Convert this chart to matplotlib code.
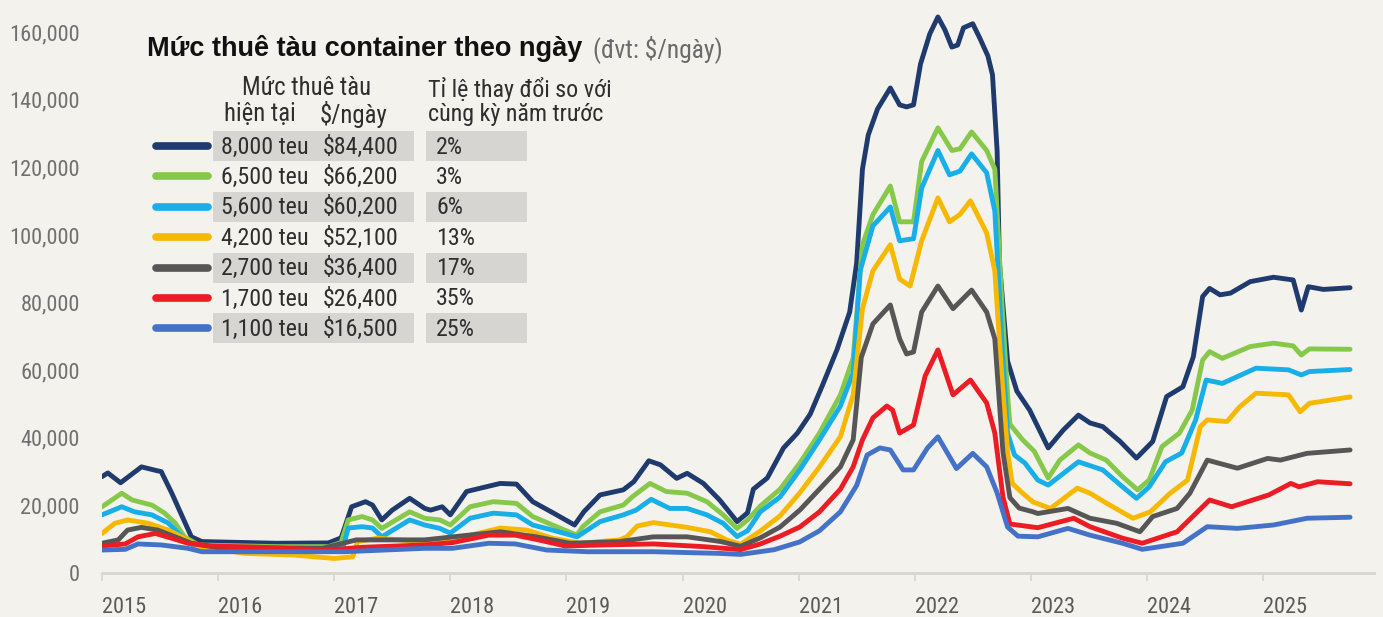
import matplotlib
matplotlib.use('Agg')
import matplotlib.pyplot as plt
import matplotlib.font_manager as fm
from matplotlib.lines import Line2D
from matplotlib.patches import Rectangle
from matplotlib.ticker import FuncFormatter

W, H = 1383, 617
BG = '#f4f2ed'

# ---------------- data ----------------
years = [2015, 2016, 2017, 2018, 2019, 2020, 2021, 2022, 2023, 2024, 2025]
y_ticks = [0, 20000, 40000, 60000, 80000, 100000, 120000, 140000, 160000]

navy_t = [2015.00, 2015.05, 2015.16, 2015.34, 2015.47, 2015.51, 2015.60, 2015.77, 2015.86, 2016.50, 2016.95,
          2017.06, 2017.15, 2017.27, 2017.33, 2017.41, 2017.50, 2017.65, 2017.78, 2017.83, 2017.93, 2018.00,
          2018.14, 2018.26, 2018.43, 2018.57, 2018.71, 2018.89, 2019.07, 2019.15, 2019.29, 2019.49, 2019.58,
          2019.71, 2019.81, 2019.95, 2020.04, 2020.18, 2020.32, 2020.47, 2020.56, 2020.61, 2020.73, 2020.87,
          2020.99, 2021.10, 2021.21, 2021.33, 2021.44, 2021.50, 2021.55, 2021.60, 2021.68, 2021.79, 2021.87,
          2021.93, 2021.99, 2022.05, 2022.13, 2022.20, 2022.26, 2022.32, 2022.37, 2022.42, 2022.50, 2022.56,
          2022.63, 2022.67, 2022.71, 2022.73, 2022.80, 2022.88, 2022.99, 2023.15, 2023.28, 2023.41, 2023.51,
          2023.62, 2023.77, 2023.91, 2024.05, 2024.17, 2024.31, 2024.40, 2024.48, 2024.54, 2024.63, 2024.72,
          2024.89, 2025.09, 2025.26, 2025.33, 2025.39, 2025.52, 2025.75]
navy_v = [28500, 29600, 26700, 31400, 30300, 30000, 23700, 10700, 9300, 8800, 8900,
          10400, 19600, 21100, 20100, 15700, 18600, 22100, 19100, 18600, 19600, 17200,
          24100, 25100, 26500, 26300, 21100, 17700, 14200, 18100, 23100, 24600, 27000,
          33200, 32000, 28000, 29500, 26500, 21600, 15200, 17800, 24800, 28100, 37000,
          41400, 47000, 55900, 66000, 77200, 91700, 119500, 129600, 137300, 143500, 138500,
          137900, 138500, 150600, 159500, 164500, 160700, 155600, 156200, 161300, 162500, 158300,
          153000, 147400, 124900, 91700, 62700, 53800, 48200, 37000, 42300, 46700, 44400,
          43300, 38900, 34000, 38900, 52200, 55100, 64000, 81800, 84200, 82300, 82800,
          86200, 87500, 86700, 77800, 84700, 83900, 84400]

green_t = [2015.00, 2015.17, 2015.26, 2015.43, 2015.54, 2015.63, 2015.71, 2015.83, 2016.50, 2016.95,
           2017.06, 2017.12, 2017.24, 2017.33, 2017.41, 2017.65, 2017.78, 2017.91, 2018.00, 2018.17,
           2018.37, 2018.57, 2018.71, 2018.88, 2019.09, 2019.14, 2019.29, 2019.49, 2019.57, 2019.72,
           2019.86, 2020.04, 2020.21, 2020.35, 2020.47, 2020.56, 2020.67, 2020.84, 2021.01, 2021.18,
           2021.36, 2021.47, 2021.55, 2021.64, 2021.79, 2021.87, 2021.99, 2022.06, 2022.20, 2022.32,
           2022.39, 2022.49, 2022.62, 2022.69, 2022.75, 2022.80, 2022.82, 2022.93, 2023.03, 2023.15,
           2023.25, 2023.41, 2023.51, 2023.65, 2023.79, 2023.92, 2024.02, 2024.13, 2024.28, 2024.39,
           2024.48, 2024.54, 2024.65, 2024.89, 2025.09, 2025.26, 2025.33, 2025.40, 2025.75]
green_v = [19600, 23600, 21600, 20100, 17700, 14800, 10700, 8300, 7800, 7800,
           9000, 15700, 16700, 15700, 13200, 18100, 16200, 15700, 14200, 19600,
           21100, 20600, 16700, 14200, 11200, 13700, 18100, 20100, 22600, 26500,
           24100, 23600, 21100, 17200, 13200, 15700, 19800, 24800, 32500, 41400,
           52700, 63600, 97100, 106000, 114500, 103900, 103900, 121700, 131700, 125000,
           125500, 130500, 125000, 119500, 80500, 52700, 44000, 39400, 36000, 28100,
           33400, 37900, 35500, 33400, 28500, 24600, 27500, 37400, 41400, 48200,
           63000, 65500, 63500, 67000, 68000, 67200, 64500, 66300, 66200]

cyan_t = [2015.00, 2015.17, 2015.28, 2015.43, 2015.57, 2015.69, 2015.80, 2016.50, 2016.95, 2017.08,
          2017.12, 2017.24, 2017.33, 2017.41, 2017.65, 2017.78, 2017.91, 2018.00, 2018.17, 2018.37,
          2018.57, 2018.71, 2018.88, 2019.09, 2019.14, 2019.29, 2019.49, 2019.60, 2019.73, 2019.89,
          2020.04, 2020.21, 2020.35, 2020.47, 2020.56, 2020.67, 2020.84, 2021.01, 2021.18, 2021.36,
          2021.47, 2021.53, 2021.64, 2021.79, 2021.87, 2021.99, 2022.06, 2022.20, 2022.30, 2022.39,
          2022.49, 2022.62, 2022.69, 2022.75, 2022.80, 2022.86, 2022.95, 2023.06, 2023.15, 2023.41,
          2023.62, 2023.79, 2023.91, 2024.02, 2024.16, 2024.30, 2024.42, 2024.51, 2024.65, 2024.94,
          2025.22, 2025.33, 2025.40, 2025.75]
cyan_v = [17200, 19600, 18100, 17200, 14800, 10700, 7800, 7300, 7300, 8000,
          13300, 13700, 13300, 10700, 15700, 14200, 13200, 11800, 16200, 17700,
          17200, 14200, 12700, 10700, 11800, 15200, 17200, 18600, 21800, 19100,
          19100, 17200, 14700, 10800, 12500, 18100, 22500, 30500, 39400, 49400,
          59200, 89400, 102700, 108300, 98300, 98900, 113900, 125000, 117800, 118900,
          124000, 118400, 107100, 69200, 41400, 34900, 32500, 27500, 26000, 32900,
          30500, 25500, 22100, 25500, 32900, 35500, 45300, 57100, 56100, 60600,
          60100, 58600, 59600, 60200]

yellow_t = [2015.00, 2015.11, 2015.22, 2015.40, 2015.57, 2015.71, 2015.83, 2016.23, 2016.66, 2017.00,
            2017.16, 2017.20, 2017.38, 2017.74, 2018.08, 2018.43, 2018.66, 2018.88, 2019.12, 2019.46,
            2019.52, 2019.61, 2019.75, 2020.04, 2020.24, 2020.38, 2020.50, 2020.67, 2020.84, 2021.01,
            2021.18, 2021.36, 2021.47, 2021.55, 2021.64, 2021.79, 2021.87, 2021.96, 2022.06, 2022.20,
            2022.30, 2022.39, 2022.48, 2022.62, 2022.69, 2022.75, 2022.80, 2022.84, 2022.93, 2023.02,
            2023.17, 2023.40, 2023.51, 2023.68, 2023.88, 2024.03, 2024.20, 2024.35, 2024.46, 2024.52,
            2024.69, 2024.80, 2024.94, 2025.22, 2025.32, 2025.40, 2025.75]
yellow_v = [11700, 14700, 15700, 14700, 12700, 10300, 7800, 5800, 5300, 4300,
            4800, 9300, 10300, 9300, 10400, 13300, 12700, 10300, 8800, 9800,
            10700, 13900, 14900, 13500, 12200, 9800, 8500, 12400, 16900, 23700,
            31400, 40300, 52700, 78200, 89400, 97100, 87000, 84900, 98300, 111000,
            103900, 106100, 110100, 100600, 89400, 58300, 35800, 26500, 23600, 21000,
            19100, 25100, 23600, 20100, 16200, 18100, 23600, 27500, 43300, 45300,
            44800, 49200, 53200, 52700, 47700, 50200, 52100]

gray_t = [2015.00, 2015.14, 2015.22, 2015.34, 2015.48, 2015.63, 2015.77, 2016.00, 2016.90, 2017.19,
          2017.78, 2018.43, 2018.74, 2019.03, 2019.46, 2019.75, 2020.04, 2020.33, 2020.50, 2020.67,
          2020.84, 2021.01, 2021.18, 2021.36, 2021.47, 2021.54, 2021.64, 2021.79, 2021.87, 2021.93,
          2021.99, 2022.06, 2022.20, 2022.33, 2022.49, 2022.62, 2022.69, 2022.76, 2022.82, 2022.90,
          2023.02, 2023.06, 2023.32, 2023.51, 2023.74, 2023.94, 2024.05, 2024.26, 2024.37, 2024.52,
          2024.78, 2025.04, 2025.15, 2025.38, 2025.75]
gray_v = [8800, 9800, 12700, 13500, 12700, 10700, 8800, 7500, 7300, 9800,
          9800, 12200, 10700, 8800, 9300, 10700, 10700, 9300, 7900, 10400,
          13600, 18600, 24800, 31400, 39400, 63800, 73700, 79300, 69300, 64800,
          65400, 77200, 84900, 78200, 83700, 77200, 69300, 35800, 22300, 19200,
          18100, 17600, 19100, 16200, 14700, 12200, 16700, 19100, 23600, 33400,
          31000, 33900, 33400, 35400, 36400]

red_t = [2015.00, 2015.20, 2015.31, 2015.46, 2015.60, 2015.74, 2015.94, 2016.37, 2016.95, 2017.24,
         2017.78, 2018.02, 2018.33, 2018.56, 2018.76, 2018.99, 2019.32, 2019.75, 2020.18, 2020.50,
         2020.67, 2020.84, 2021.01, 2021.18, 2021.36, 2021.47, 2021.55, 2021.64, 2021.76, 2021.81,
         2021.87, 2021.99, 2022.09, 2022.20, 2022.33, 2022.48, 2022.62, 2022.69, 2022.76, 2022.82,
         2023.06, 2023.37, 2023.51, 2023.79, 2023.96, 2024.26, 2024.54, 2024.73, 2025.05, 2025.24,
         2025.31, 2025.47, 2025.75]
red_v = [8000, 8600, 10700, 11700, 10300, 8800, 8000, 7600, 6800, 7600,
         8300, 9000, 11200, 11200, 9800, 8000, 8300, 8600, 7800, 6900,
         8600, 10900, 13600, 18100, 24800, 31400, 39400, 45900, 49400, 48200,
         41400, 43800, 58300, 66000, 52700, 57100, 50300, 41400, 22500, 14500,
         13400, 16200, 13700, 10300, 8800, 12200, 21600, 19600, 23100, 26500,
         25500, 27000, 26400]

blue_t = [2015.00, 2015.20, 2015.31, 2015.51, 2015.74, 2015.86, 2016.66, 2017.09, 2017.78, 2018.02,
          2018.33, 2018.56, 2018.83, 2019.18, 2019.75, 2020.32, 2020.50, 2020.79, 2021.01, 2021.18,
          2021.36, 2021.50, 2021.59, 2021.70, 2021.79, 2021.90, 2021.99, 2022.11, 2022.20, 2022.36,
          2022.50, 2022.62, 2022.71, 2022.80, 2022.89, 2023.06, 2023.32, 2023.51, 2023.79, 2023.96,
          2024.31, 2024.52, 2024.78, 2025.09, 2025.38, 2025.75]
blue_v = [6800, 7000, 8600, 8300, 7300, 6300, 6300, 6300, 7300, 7300,
          8800, 8600, 6800, 6300, 6300, 5800, 5500, 6900, 9200, 12500,
          18100, 25900, 34900, 37000, 36400, 30500, 30500, 37000, 40300, 30900,
          35400, 31400, 23700, 13600, 10900, 10700, 13200, 11200, 8800, 7000,
          8800, 13700, 13200, 14200, 16200, 16500]

ship_sizes = ['8,000 teu', '6,500 teu', '5,600 teu', '4,200 teu', '2,700 teu', '1,700 teu', '1,100 teu']
current_rates = ['$84,400', '$66,200', '$60,200', '$52,100', '$36,400', '$26,400', '$16,500']
yoy_change = ['2%', '3%', '6%', '13%', '17%', '35%', '25%']
colors = ['#1f3a6d', '#86c94a', '#18aee8', '#f7b900', '#565656', '#ec1c24', '#4472c8']

series_t = [navy_t, green_t, cyan_t, yellow_t, gray_t, red_t, blue_t]
series_v = [navy_v, green_v, cyan_v, yellow_v, gray_v, red_v, blue_v]

title = 'Mức thuê tàu container theo ngày'
unit = '(đvt: $/ngày)'
hdr1a = 'Mức thuê tàu'
hdr1b = 'hiện tại'
hdr1c = '$/ngày'
hdr2a = 'Tỉ lệ thay đổi so với'
hdr2b = 'cùng kỳ năm trước'

# ---------------- fonts ----------------
names = {f.name for f in fm.fontManager.ttflist}
narrow = None
for cand in ['Roboto Condensed', 'Liberation Sans Narrow', 'Arial Narrow', 'Open Sans Condensed']:
    if cand in names:
        narrow = cand
        break
if narrow is None:
    narrow = 'Liberation Sans' if 'Liberation Sans' in names else 'DejaVu Sans'
COND = dict(family=[narrow, 'DejaVu Sans'])
BOLD = dict(family=['Liberation Sans', 'DejaVu Sans'], weight='bold')
is_condensed = narrow in ('Roboto Condensed', 'Liberation Sans Narrow', 'Arial Narrow', 'Open Sans Condensed')
k = 1.15 if is_condensed else 1.0   # size factor for condensed fonts

# ---------------- figure ----------------
fig = plt.figure(figsize=(W / 100, H / 100), dpi=100, facecolor=BG)


def fx(px):
    return px / W


def fy(py):
    return 1 - py / H


ax_left, ax_right = 102, 1374
ax_bottom = 573
ymax = 168000
px_per_unit = 67.6 / 20000
ax_top = ax_bottom - ymax * px_per_unit
x0 = 2015.0
x1 = x0 + (ax_right - ax_left) / 116.1
ax = fig.add_axes([fx(ax_left), fy(ax_bottom), (ax_right - ax_left) / W, (ax_bottom - ax_top) / H])
ax.set_facecolor('none')
ax.set_xlim(x0, x1)
ax.set_ylim(0, ymax)

for t, v, c in zip(series_t, series_v, colors):
    ax.plot(t, v, color=c, lw=3.5, solid_joinstyle='round', solid_capstyle='round', zorder=3)

for s in ['top', 'right', 'left']:
    ax.spines[s].set_visible(False)
ax.spines['bottom'].set_color('#d8d5cf')
ax.spines['bottom'].set_linewidth(2)
ax.spines['bottom'].set_zorder(1)

tick_size = 14 * k
ax.set_yticks(y_ticks)
ax.yaxis.set_major_formatter(FuncFormatter(lambda v, p: f'{v:,.0f}'))
ax.tick_params(axis='y', length=0, pad=16)
for lab in ax.get_yticklabels():
    lab.set_fontproperties(fm.FontProperties(size=tick_size, **COND))
    lab.set_color('#707070')

ax.set_xticks(years)
ax.set_xticklabels([str(y) for y in years])
ax.tick_params(axis='x', length=6, width=1.2, color='#d8d5cf', direction='out', pad=11)
for lab in ax.get_xticklabels():
    lab.set_fontproperties(fm.FontProperties(size=tick_size, **COND))
    lab.set_horizontalalignment('left')
    lab.set_color('#5a5a5a')

# ---------------- title + legend table ----------------
fig.text(fx(147), fy(48), title, fontsize=19.5, color='#111111', va='center', ha='left', **BOLD)
fig.text(fx(593), fy(49), unit, fontsize=16 * k, color='#6a6a6a', va='center', ha='left', **COND)

txt_col = '#2e2e2e'
hs = 15.5 * k
fig.text(fx(307), fy(88), hdr1a, fontsize=hs, color=txt_col, va='center', ha='center', **COND)
fig.text(fx(224), fy(114), hdr1b, fontsize=hs, color=txt_col, va='center', ha='left', **COND)
fig.text(fx(320), fy(114), hdr1c, fontsize=hs, color=txt_col, va='center', ha='left', **COND)
fig.text(fx(428), fy(89), hdr2a, fontsize=15 * k, color=txt_col, va='center', ha='left', **COND)
fig.text(fx(428), fy(114), hdr2b, fontsize=15 * k, color=txt_col, va='center', ha='left', **COND)

rs = 15 * k
row0, row_step = 146, 30.4
for i, (sz, rate, chg, c) in enumerate(zip(ship_sizes, current_rates, yoy_change, colors)):
    yc = row0 + i * row_step
    if i % 2 == 0:
        fig.patches.append(Rectangle((fx(213), fy(yc + 15)), (414 - 213) / W, 30 / H,
                                     transform=fig.transFigure, facecolor='#d6d5d2',
                                     edgecolor='none', zorder=1))
        fig.patches.append(Rectangle((fx(426), fy(yc + 15)), (527 - 426) / W, 30 / H,
                                     transform=fig.transFigure, facecolor='#d6d5d2',
                                     edgecolor='none', zorder=1))
    fig.add_artist(Line2D([fx(156), fx(208)], [fy(yc), fy(yc)], transform=fig.transFigure,
                          color=c, lw=5.5, solid_capstyle='round', zorder=2))
    fig.text(fx(221), fy(yc + 1), sz, fontsize=rs, color=txt_col, va='center', ha='left', zorder=3, **COND)
    fig.text(fx(323), fy(yc + 1), rate, fontsize=rs, color=txt_col, va='center', ha='left', zorder=3, **COND)
    fig.text(fx(436), fy(yc + 1), chg, fontsize=rs, color=txt_col, va='center', ha='left', zorder=3, **COND)

fig.savefig('out.png', dpi=100, facecolor=BG)
